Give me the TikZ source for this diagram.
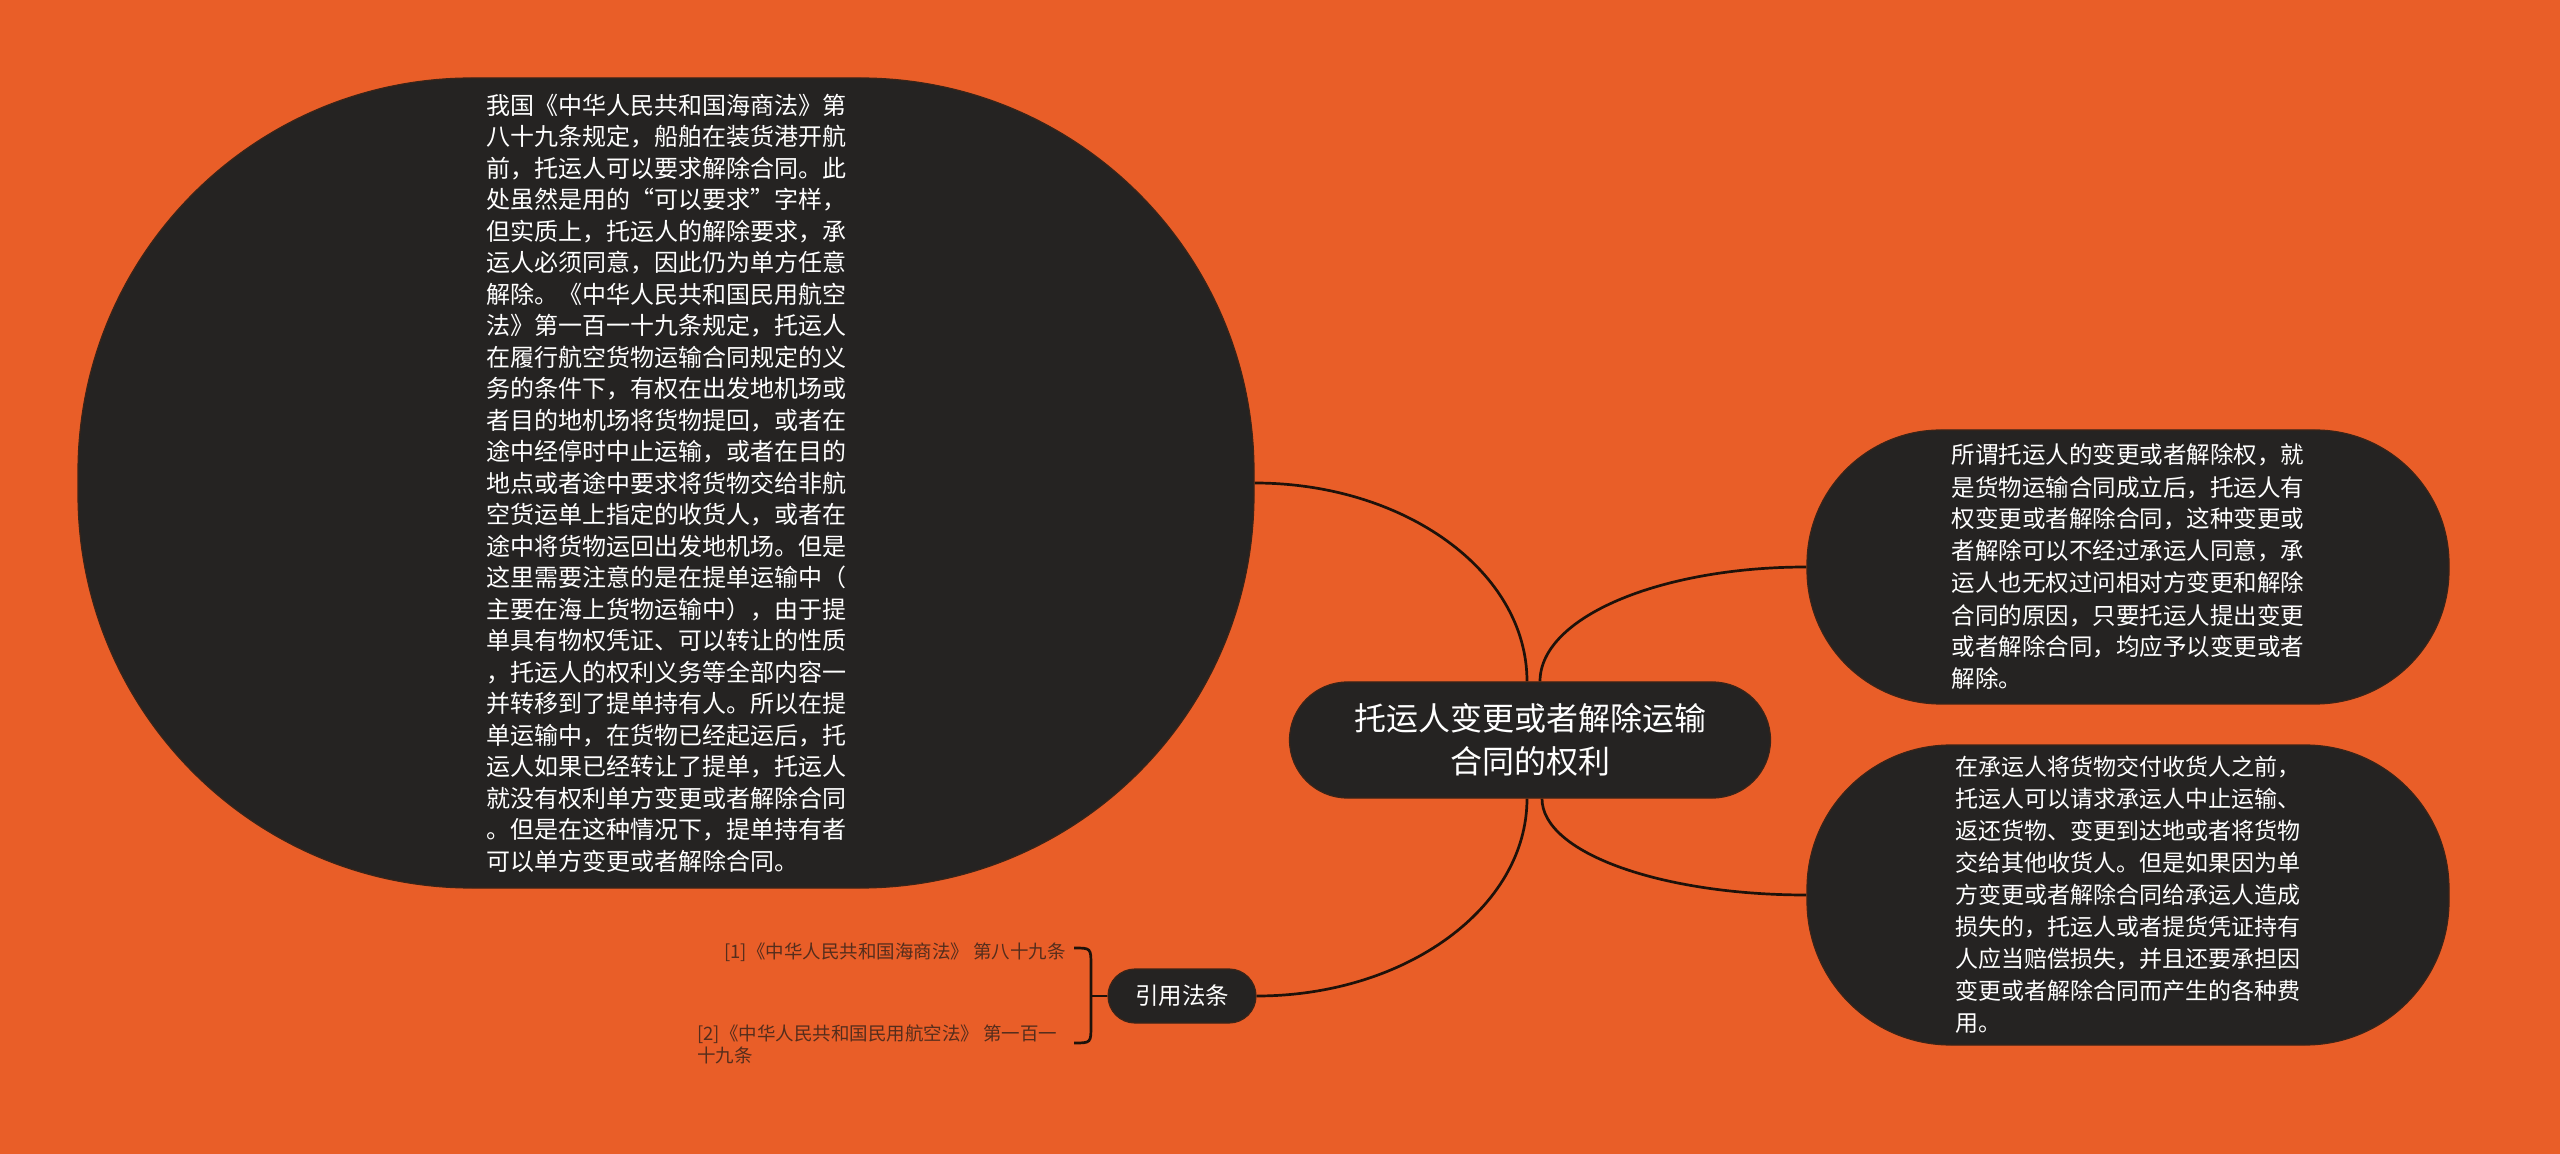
\documentclass[tikz,border=0pt]{standalone}
\usepackage{fontspec}
\setmainfont{Noto Sans CJK SC}
\pgfdeclarelayer{under}
\pgfsetlayers{under,main}
\definecolor{bgc}{RGB}{233,94,40}
\definecolor{nodefill}{RGB}{37,35,34}
\definecolor{nodeedge}{RGB}{60,36,24}
\definecolor{edgec}{RGB}{30,18,10}
\definecolor{citec}{RGB}{85,45,28}
\tikzset{
  topic/.style={draw=nodeedge, line width=0.6pt, fill=nodefill, text=white, inner sep=0pt},
  bodytext/.style={align=left, font={\fontsize{12pt}{15.75pt}\selectfont}},
  sidetext/.style={align=left, font={\fontsize{11.75pt}{16pt}\selectfont}},
  sidetextb/.style={align=left, font={\fontsize{11.5pt}{16pt}\selectfont}},
  link/.style={draw=edgec, line width=1.35pt},
  citetext/.style={text=citec, align=left, inner sep=0pt, font={\fontsize{9.25pt}{11pt}\selectfont}}
}
\begin{document}
\begin{tikzpicture}[x=0.5pt,y=-0.5pt]
\useasboundingbox (0,0) rectangle (2560,1154);

% left big node
\node[topic, bodytext, minimum width=588pt, minimum height=405pt, rounded corners=197pt] (L) at (666,483) {%
我国《中华人民共和国海商法》第\\
八十九条规定，船舶在装货港开航\\
前，托运人可以要求解除合同。此\\
处虽然是用的“可以要求”字样，\\
但实质上，托运人的解除要求，承\\
运人必须同意，因此仍为单方任意\\
解除。《中华人民共和国民用航空\\
法》第一百一十九条规定，托运人\\
在履行航空货物运输合同规定的义\\
务的条件下，有权在出发地机场或\\
者目的地机场将货物提回，或者在\\
途中经停时中止运输，或者在目的\\
地点或者途中要求将货物交给非航\\
空货运单上指定的收货人，或者在\\
途中将货物运回出发地机场。但是\\
这里需要注意的是在提单运输中（\\
主要在海上货物运输中），由于提\\
单具有物权凭证、可以转让的性质\\
，托运人的权利义务等全部内容一\\
并转移到了提单持有人。所以在提\\
单运输中，在货物已经起运后，托\\
运人如果已经转让了提单，托运人\\
就没有权利单方变更或者解除合同\\
。但是在这种情况下，提单持有者\\
可以单方变更或者解除合同。};

% right nodes
\node[topic, sidetext, minimum width=321pt, minimum height=137pt, rounded corners=67pt] (R1) at (2128,567) {%
所谓托运人的变更或者解除权，就\\
是货物运输合同成立后，托运人有\\
权变更或者解除合同，这种变更或\\
者解除可以不经过承运人同意，承\\
运人也无权过问相对方变更和解除\\
合同的原因，只要托运人提出变更\\
或者解除合同，均应予以变更或者\\
解除。};

\node[topic, sidetextb, minimum width=321pt, minimum height=150pt, rounded corners=72pt] (R2) at (2128,895) {%
在承运人将货物交付收货人之前，\\
托运人可以请求承运人中止运输、\\
返还货物、变更到达地或者将货物\\
交给其他收货人。但是如果因为单\\
方变更或者解除合同给承运人造成\\
损失的，托运人或者提货凭证持有\\
人应当赔偿损失，并且还要承担因\\
变更或者解除合同而产生的各种费\\
用。};

% centre node
\node[topic, align=center, font={\fontsize{16pt}{21.5pt}\selectfont}, minimum width=240.5pt, minimum height=58pt, rounded corners=29pt] (C) at (1530,740) {托运人变更或者解除运输\\合同的权利};

% citation node
\node[topic, font={\fontsize{11.75pt}{14pt}\selectfont}, minimum width=74pt, minimum height=27pt, rounded corners=13.5pt] (Q) at (1182,996) {引用法条};

\node[citetext, anchor=west] (c1) at (724,952) {[1]《中华人民共和国海商法》 第八十九条};
\node[citetext, anchor=west] (c2) at (697,1044) {[2]《中华人民共和国民用航空法》 第一百一\\十九条};

\coordinate (bt) at (1074,948);
\coordinate (bb) at (1074,1043);
\coordinate (bm) at (1091,996);

\begin{pgfonlayer}{under}
\fill[bgc] (0,0) rectangle (2560,1154);
\draw[link] ([xshift=-1.5pt]C.north) .. controls +(0,-110) and +(150,0) .. (L.east);
\draw[link] ([xshift=5pt]C.north) .. controls +(0,-64) and +(-147,0) .. (R1.west);
\draw[link] ([xshift=6pt]C.south) .. controls +(0,54) and +(-146,0) .. (R2.west);
\draw[link] ([xshift=-1.5pt]C.south) .. controls +(0,109) and +(149,0) .. (Q.east);
\draw[link] (bt) .. controls (1091,948) .. (1091,966) -- (1091,1025) .. controls (1091,1043) .. (bb);
\draw[link] (Q.west) -- (bm);
\end{pgfonlayer}
\end{tikzpicture}
\end{document}
